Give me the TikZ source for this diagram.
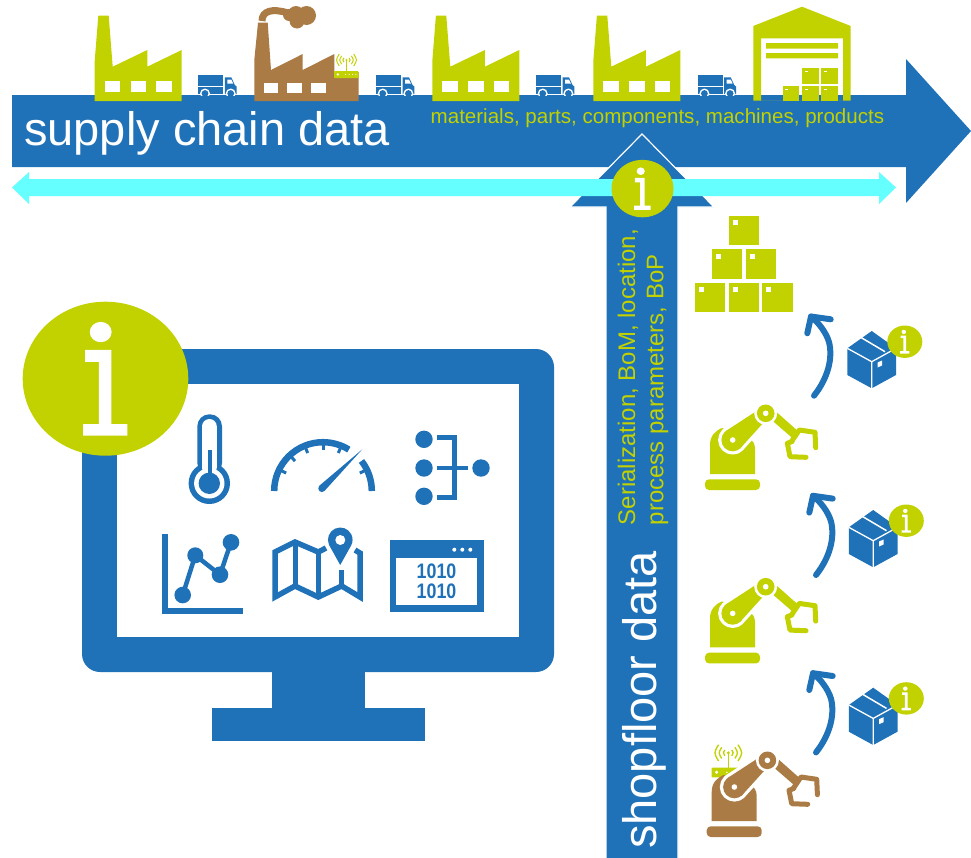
\documentclass[tikz,border=0pt]{standalone}
\usepackage{fontspec}
\setmainfont{Liberation Sans}
\definecolor{bblue}{HTML}{1F71B8}
\definecolor{lime}{HTML}{C2D100}
\definecolor{bbrown}{HTML}{AB7B45}
\definecolor{ccyan}{HTML}{66FFFF}
\tikzset{
  bfill/.style={fill=bblue,draw=none},
  lfill/.style={fill=lime,draw=none},
  wfill/.style={fill=white,draw=none},
  bline/.style={draw=bblue,line width=#1},
  flowarrow/.style={draw=bblue,line width=6pt,line cap=round,line join=round},
  gripper/.style={line width=5pt,line cap=round,line join=round},
  bigtext/.style={text=white,font=\fontsize{47}{50}\selectfont,inner sep=0pt},
  limetext/.style={text=lime,inner sep=0pt}
}
% info badge: centre, x radius, y radius
\newcommand\infobadge[4]{%
  \begin{scope}[shift={(#1,#2)},xscale=#3,yscale=#4]
    \path[fill=lime] (0,0) circle [radius=1];
    \path[wfill] (-0.058,-0.606) circle [radius=0.132];
    \path[wfill] (-0.246,-0.374) -- (0.07,-0.374) -- (0.07,0.589) -- (0.263,0.589) -- (0.263,0.74)
      -- (-0.27,0.74) -- (-0.27,0.589) -- (-0.08,0.589) -- (-0.08,-0.218) -- (-0.246,-0.218) -- cycle;
  \end{scope}}
\newcommand\plainfactory[2]{%
  \begin{scope}[shift={(#1,#2)}]
    \path[lfill] (0,0) -- (0,-40) -- (3.6,-85.3) -- (14,-85.3) -- (18,-34.3) -- (52.6,-51) -- (52.6,-34.3)
       -- (87,-51) -- (87,0) -- cycle;
    \foreach \wx in {10,36,61.6} \path[wfill] (\wx,-20) rectangle +(15.5,11.3);
  \end{scope}}
\newcommand\mytruck[1]{%
  \begin{scope}[shift={(#1,95)}]
    \begin{scope}
      \clip (-2,-25) rectangle (42,0);
      \path[bfill] (0,-20) rectangle (25,-9.3);
      \path[bfill] (0,-7.7) rectangle (25,-1);
      \path[bfill] (26.5,-1) -- (26.5,-17.7) -- (33,-17.7) -- (36.5,-10) -- (38.3,-8.5) -- (38.3,-1) -- cycle;
      \path[wfill] (29,-15.5) -- (33,-15.5) -- (35,-11.3) -- (29,-11.3) -- cycle;
      \foreach \wx in {6.7,32.4} {
        \path[wfill] (\wx,-1.5) circle [radius=5];
        \path[bfill] (\wx,-1.5) circle [radius=3.4];
      }
    \end{scope}
  \end{scope}}
\newcommand\myrouter[3]{%
  \begin{scope}[shift={(#1,#2)},scale=#3]
    \path[lfill,rounded corners=0.8pt] (-12.4,0) rectangle (12,7.2);
    \path[wfill] (-8.7,3.4) circle [radius=1.3];
    \foreach \dx in {-1,2.6,6,9.3} \path[wfill] (\dx,3.4) circle [radius=0.6];
    \draw[lime,line width=#3*1pt] (0,0) -- (0,-11);
    \path[lfill] (0,-11) circle [radius=1.2];
    \foreach \rr in {3.4,6.4,9.4} {
      \draw[lime,line width=#3*1pt] (-0.766*\rr,-11-0.643*\rr) .. controls (-1.15*\rr,-11) .. (-0.766*\rr,-11+0.643*\rr);
      \draw[lime,line width=#3*1pt] (0.766*\rr,-11-0.643*\rr) .. controls (1.15*\rr,-11) .. (0.766*\rr,-11+0.643*\rr);
    }
  \end{scope}}
\newcommand\mycrate[2]{%
  \path[lfill] (#1,#2) rectangle +(30.3,29.4);
  \path[wfill] (#1+4,#2+4.3) rectangle +(5,5);}
\newcommand\myrobot[3]{%
  \begin{scope}[shift={(#1,#2)}]
    \path[fill=#3,rounded corners=4pt] (705,490) -- (705,479.3) -- (760,479.3) -- (760,490) -- cycle;
    \path[fill=#3] (710,474) -- (710,445) .. controls (710,436) and (715,431) .. (722,428) -- (748,438)
      .. controls (753,440) and (755,444) .. (755,449) -- (755,474) -- cycle;
    \path[fill=white,draw=white,line width=6.5pt,line join=round] (732.7,440) circle [radius=11.3]
      (725.6,431.2) -- (761.3,407.9) -- (765,421) -- (739.8,448.8) -- cycle;
    \path[fill=#3] (732.7,440) circle [radius=11.3];
    \path[fill=#3] (725.6,431.2) -- (761.3,407.9) -- (765,421) -- (739.8,448.8) -- cycle;
    \path[wfill] (732.7,440) circle [radius=2.8];
    \path[fill=#3] (771,419.5) -- (777,412.5) -- (799.5,432.5) -- (793.5,439) -- cycle;
    \path[wfill] (765.7,413.3) circle [radius=11.5];
    \path[fill=#3] (765.7,413.3) circle [radius=8.8];
    \path[wfill] (765.7,413.3) circle [radius=2.8];
    \draw[#3,gripper] (791.5,441.5) -- (799.3,430) -- (815,432.3) -- (815.7,447.7);
    \draw[#3,gripper] (792,441.5) -- (787.3,443.3) -- (790,456.7) -- (806,457.3);
  \end{scope}}
\newcommand\flowarrow[2]{%
  \begin{scope}[shift={(#1,#2)}]
    \draw[flowarrow] (814,395.7) .. controls (828,378) and (833,358) .. (829,342) .. controls (826,332) and (818,322) .. (811,316.5);
    \draw[flowarrow] (807.3,333.3) -- (811,316.5) -- (830.7,319.3);
  \end{scope}}
\newcommand\boxinfo[2]{%
  \begin{scope}[shift={(#1,#2)}]
    \path[bfill] (871.7,331) -- (896,348.3) -- (896,375) -- (871.7,388.3) -- (847.3,375) -- (847.3,348.3) -- cycle;
    \draw[white,line width=1.3pt] (847.3,348.3) -- (871.7,361.7) -- (896,348.3) (871.7,361.7) -- (871.7,389);
    \draw[white,line width=1.5pt] (860.7,337.3) -- (885,351.7);
    \path[wfill] (877.5,362.5) -- (882,360.5) -- (882,365.5) -- (877.5,367.5) -- cycle;
    \infobadge{904.8}{341.7}{17.5}{16.2}
  \end{scope}}
\begin{document}
\begin{tikzpicture}[x=1pt,y=-1pt]
\useasboundingbox (0,0) rectangle (971,857);
% main arrow
\path[bfill] (12,95) -- (906,95) -- (906,59) -- (971,131) -- (906,203) -- (906,167) -- (12,167) -- cycle;
% vertical arrow
\path[fill=bblue,draw=white,line width=1.2pt] (606,858) -- (606,207) -- (570,207) -- (642,134) -- (714,207) -- (678,207) -- (678,858);
% cyan arrow
\path[fill=ccyan] (12,187.5) -- (29,172) -- (29,179) -- (879,179) -- (879,172) -- (896,187.5) -- (879,204) -- (879,196) -- (29,196) -- (29,204) -- cycle;
\infobadge{642.5}{188.6}{31}{28.7}
% factories
\plainfactory{94.7}{101}
\plainfactory{432.3}{101}
\plainfactory{593.3}{101}
% brown factory
\path[fill=bbrown] (254.3,101) -- (254.3,60) -- (258,22.7) -- (267.7,22.7) -- (271,70) -- (302.7,54) -- (302.7,70)
   -- (334.3,54) -- (334.3,72) -- (358.7,72) -- (358.7,101) -- cycle;
\foreach \wx in {263.7,287.3,311} \path[wfill] (\wx,82.7) rectangle +(14.5,10.6);
\draw[bbrown,line width=7pt] (262,21) .. controls (262,11) and (272,8) .. (288,13);
\path[fill=bbrown] (289,15) circle [radius=6] (296,14) circle [radius=8] (306.5,15.5) circle [radius=9.5] (297,21) circle [radius=7.5];
\myrouter{346.5}{71}{1}
% trucks
\mytruck{198.3}\mytruck{376}\mytruck{536}\mytruck{697.7}
% warehouse
\path[lfill,even odd rule] (802,6.7) -- (850.7,26) -- (850.7,100.5) -- (753.3,100.5) -- (753.3,26) -- cycle
   (761,38.3) rectangle (843,100.6);
\path[lfill] (766,43) rectangle (838,48.7) (766,53) rectangle (838,58.3);
\foreach \cx/\cy in {802/68,821.3/68,782.7/86,802/86,821.3/86} {
  \path[lfill] (\cx,\cy) rectangle +(16.7,\ifdim\cy pt<70pt 16\else 14.5\fi);
  \path[wfill] (\cx+2.5,\cy+2.5) rectangle +(3,1.8);
}
% texts
\node[bigtext,anchor=base west] (supply) at (24,145.7) {supply chain data};
\node[limetext,anchor=base west,font=\fontsize{20.55}{22}\selectfont] (materials) at (430.5,123.3) {materials, parts, components, machines, products};
\node[bigtext,rotate=90,anchor=base west] (shopfloor) at (656.7,849) {shopfloor data};
\node[limetext,rotate=90,anchor=base west,font=\fontsize{24}{26}\selectfont] (serial) at (635,525.5) {Serialization, BoM, location,};
\node[limetext,rotate=90,anchor=base west,font=\fontsize{24}{26}\selectfont] (process) at (663.3,525.5) {process parameters, BoP};
% monitor
\path[bfill] (272,660) rectangle (365,708);
\path[bfill] (212,708) rectangle (425,741);
\path[fill=bblue,rounded corners=18pt] (82,349) rectangle (554,672);
\path[wfill] (117,384) rectangle (519,637);
\infobadge{105.5}{378.7}{82.8}{77}
% thermometer
\path[bfill,rounded corners=12pt] (197.3,475) -- (197.3,414.3) -- (222,414.3) -- (222,475) -- cycle;
\path[bfill] (209.3,483.3) circle [radius=20.7];
\path[wfill,rounded corners=7.4pt] (202,475) -- (202,419) -- (216.8,419) -- (216.8,475) -- cycle;
\path[wfill] (209.3,483.3) circle [radius=15.2];
\path[bfill] (207.5,450) rectangle (211.5,480);
\path[bfill] (209.3,483.3) circle [radius=10.7];
% gauge
\begin{scope}[shift={(323,491)}]
  \draw[bblue,line width=6.5pt] (-48.8,0) arc [start angle=180,end angle=58,radius=48.8pt];
  \draw[bblue,line width=6.5pt] (48.8,0) arc [start angle=0,end angle=38,radius=48.8pt];
  \foreach \ga in {154,133,112,90,68,26}
    \draw[bblue,line width=3pt] (\ga:46pt) -- (\ga:41pt);
\end{scope}
\path[bfill] (362.3,449.3) -- (324.4,491) .. controls (321,494) and (316.5,490) .. (319,486) -- cycle;
% hierarchy
\path[bfill] (424,439.3) circle [radius=8.7] (424,468) circle [radius=8.7] (424,496.3) circle [radius=8.7] (481,468) circle [radius=8.7];
\draw[bline=4.5pt] (436.7,437.7) -- (454.3,437.7) -- (454.3,497.7) -- (436.7,497.7) (436.7,468) -- (467.7,468);
% chart
\draw[bline=6.5pt] (165,534) -- (165,611) -- (242.7,611);
\draw[bline=4.5pt] (182.7,595) -- (195.3,555.3) -- (220,574.7) -- (231,542.3);
\path[bfill] (182.7,595) circle [radius=8.3] (195.3,555.3) circle [radius=8] (220,574.7) circle [radius=8.3] (231,542.3) circle [radius=8.3];
% map
\draw[bline=5.5pt,line join=miter] (326,548) -- (318.3,552) -- (295,542) -- (275,552) -- (275,597) -- (295,586) -- (318.3,597) -- (341.7,586) -- (360,597) -- (360,553) -- (355,550);
\draw[bline=5pt] (295,542) -- (295,586) (318.3,552) -- (318.3,597) (341.7,570) -- (341.7,586);
\path[bfill] (340.2,565) -- (329.1,545) arc [start angle=205,end angle=-25,radius=12.3pt] -- cycle;
\path[wfill] (340.3,540) circle [radius=5];
% window
\path[bfill] (390,540.3) rectangle (483.7,611.7);
\path[wfill] (396.3,558.3) rectangle (477.3,605);
\path[wfill] (454.3,549.7) circle [radius=2] (462.3,549.7) circle [radius=2] (470.3,549.7) circle [radius=2];
\node[inner sep=0pt,text=bblue,xscale=0.85,font=\fontsize{21}{22}\bfseries\selectfont] (bits1) at (436.5,571) {1010};
\node[inner sep=0pt,text=bblue,xscale=0.85,font=\fontsize{21}{22}\bfseries\selectfont] (bits2) at (436.5,591) {1010};
% crates
\mycrate{728.7}{215.7}\mycrate{711.7}{249.3}\mycrate{745.8}{249.3}\mycrate{694.5}{282.9}\mycrate{728.7}{282.9}\mycrate{762.4}{282.9}
% robots and arrows
\myrobot{0}{0}{lime}
\myrobot{0}{173.4}{lime}
\myrouter{728.3}{767.7}{1.35}
\myrobot{1.7}{347}{bbrown}
\flowarrow{0}{0}\flowarrow{2}{179.3}\flowarrow{2}{356.7}
\boxinfo{0}{0}\boxinfo{1.5}{179}\boxinfo{1.5}{356.7}
\end{tikzpicture}
\end{document}
